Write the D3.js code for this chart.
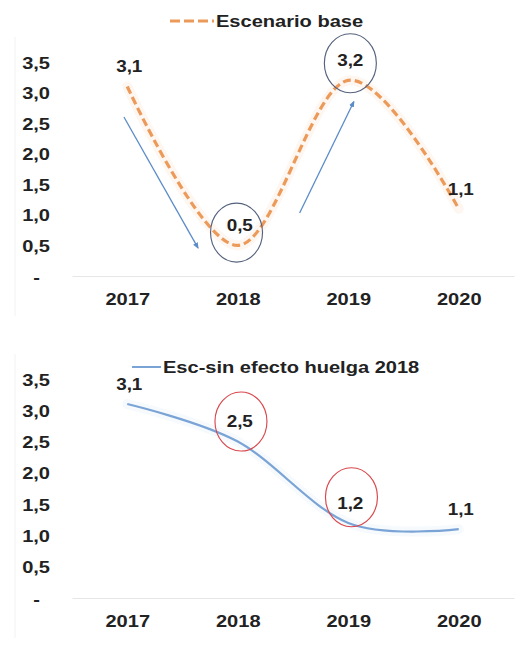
<!DOCTYPE html>
<html>
<head>
<meta charset="utf-8">
<script src="https://cdn.jsdelivr.net/npm/d3@7"></script>
<style>
  html, body { margin: 0; padding: 0; background: #fff; }
  svg { display: block; }
</style>
</head>
<body>
<svg id="chart" width="518" height="648"></svg>
<script>
// Growth scenarios, 2017-2020
const years = [2017, 2018, 2019, 2020];
const baseValues = [3.1, 0.5, 3.2, 1.1];
const noStrikeValues = [3.1, 2.5, 1.2, 1.1];
const yTicks = [0, 0.5, 1.0, 1.5, 2.0, 2.5, 3.0, 3.5];
const baseName = "Escenario base";
const noStrikeName = "Esc-sin efecto huelga 2018";

// Highlight rings (year, value of ring centre)
const baseRings = [{ year: 2017.98, value: 0.71 }, { year: 2019.01, value: 3.48 }];
const noStrikeRings = [{ year: 2018.02, value: 2.82 }, { year: 2019.02, value: 1.61 }];
// Trend arrows in (year, value) space
const baseArrows = [
  { from: [2016.97, 2.60], to: [2017.64, 0.46] },
  { from: [2018.56, 1.03], to: [2019.05, 2.85] }
];

const esLocale = d3.formatLocale({ decimal: ",", thousands: ".", grouping: [3], currency: ["", "€"] });
const fmt1 = esLocale.format(".1f");
const tickFmt = d => d === 0 ? "-" : fmt1(d);

const FONT = "'Liberation Sans', Arial, Helvetica, sans-serif";
const STRETCH = 1.18;
const INK = "#222";

const svg = d3.select("#chart");

const defs = svg.append("defs");
defs.append("marker")
  .attr("id", "arrowHead")
  .attr("viewBox", "0 0 10 10")
  .attr("refX", 8).attr("refY", 5)
  .attr("markerWidth", 5).attr("markerHeight", 5)
  .attr("orient", "auto")
  .append("path")
  .attr("d", "M0,1 L10,5 L0,9 Z")
  .attr("fill", "#5b8cc8");

function stretchedText(sel, x, y) {
  return sel.attr("transform", `translate(${x},${y}) scale(${STRETCH},1)`);
}

function panel(opts) {
  const x = d3.scalePoint().domain(years).range([72, 514]).padding(0.5);
  const xl = d3.scaleLinear().domain([2017, 2020]).range([x(2017), x(2020)]);
  const y = d3.scaleLinear().domain([0, 3.5]).range([opts.y0, opts.y1]);
  const g = svg.append("g");

  // faint frame edge on the left
  g.append("line")
    .attr("x1", 15).attr("x2", 15)
    .attr("y1", y(3.5) - 25).attr("y2", y(0) + 40)
    .attr("stroke", "#f2f2f2").attr("stroke-width", 1);

  // y axis labels
  const yAxis = g.append("g")
    .attr("transform", "translate(50,0)")
    .call(d3.axisLeft(y).tickValues(yTicks).tickFormat(tickFmt).tickSize(0).tickPadding(0));
  yAxis.select(".domain").remove();
  yAxis.selectAll("text")
    .attr("x", null).attr("dy", "0.36em")
    .attr("transform", d => `translate(${d === 0 ? -10 : 0},0) scale(${STRETCH},1)`)
    .attr("text-anchor", "end")
    .style("font-family", FONT).style("font-weight", "bold").style("font-size", "17px")
    .attr("fill", INK);

  // x axis with baseline
  const xAxis = g.append("g")
    .attr("transform", `translate(0,${y(0)})`)
    .call(d3.axisBottom(x).tickSize(0).tickSizeOuter(0).tickPadding(0));
  xAxis.select(".domain").attr("stroke", "#e6e6e6").attr("stroke-width", 1.2);
  xAxis.selectAll("text")
    .attr("y", null).attr("dy", "0.36em")
    .attr("transform", `translate(0,23) scale(${STRETCH},1)`)
    .style("font-family", FONT).style("font-weight", "bold").style("font-size", "17px")
    .attr("fill", INK);

  const pts = years.map((yr, i) => ({ year: yr, value: opts.values[i] }));
  const line = d3.line()
    .x(d => x(d.year))
    .y(d => y(d.value))
    .curve(d3.curveCardinal.tension(0));

  // soft halo under the series
  g.append("path")
    .datum(pts)
    .attr("d", line)
    .attr("fill", "none")
    .attr("stroke", opts.halo)
    .attr("stroke-width", 10)
    .attr("stroke-linecap", "round")
    .attr("opacity", 0.22);

  g.append("path")
    .datum(pts)
    .attr("d", line)
    .attr("fill", "none")
    .attr("stroke", opts.color)
    .attr("stroke-width", opts.width)
    .attr("stroke-dasharray", opts.dash)
    .attr("stroke-linecap", "butt");

  // arrows
  g.selectAll(".arrow")
    .data(opts.arrows)
    .join("line")
    .attr("class", "arrow")
    .attr("x1", d => xl(d.from[0])).attr("y1", d => y(d.from[1]))
    .attr("x2", d => xl(d.to[0])).attr("y2", d => y(d.to[1]))
    .attr("stroke", "#5b8cc8").attr("stroke-width", 1.3)
    .attr("marker-end", "url(#arrowHead)");

  // value labels
  g.selectAll(".val")
    .data(pts)
    .join("text")
    .attr("class", "val")
    .attr("transform", d => `translate(${x(d.year) + 2},${y(d.value) - 20}) scale(${STRETCH},1)`)
    .attr("dy", "0.36em")
    .attr("text-anchor", "middle")
    .style("font-family", FONT).style("font-weight", "bold").style("font-size", "16px")
    .attr("fill", INK)
    .text(d => fmt1(d.value));

  // highlight rings
  g.selectAll(".ring")
    .data(opts.rings)
    .join("ellipse")
    .attr("class", "ring")
    .attr("cx", d => xl(d.year) + 1).attr("cy", d => y(d.value))
    .attr("rx", 26).attr("ry", 29.5)
    .attr("fill", "none")
    .attr("stroke", opts.ringColor)
    .attr("stroke-width", 1.15);

  // legend
  const lg = g.append("g");
  lg.append("line")
    .attr("x1", opts.legend.x1).attr("x2", opts.legend.x2)
    .attr("y1", opts.legend.y).attr("y2", opts.legend.y)
    .attr("stroke", opts.color)
    .attr("stroke-width", opts.legendWidth)
    .attr("stroke-dasharray", opts.legendDash);
  lg.append("text")
    .call(stretchedText, opts.legend.x2 + 2, opts.legend.y)
    .attr("dy", "0.36em")
    .style("font-family", FONT).style("font-weight", "bold").style("font-size", "17px")
    .attr("fill", INK)
    .text(opts.name);
}

panel({
  y0: 276, y1: 62,
  values: baseValues,
  color: "#ec9a5a", halo: "#fbd9bd", width: 3.2, dash: "8,4",
  legendDash: "10,4", legendWidth: 3,
  arrows: baseArrows,
  rings: baseRings, ringColor: "#55627d",
  legend: { x1: 170, x2: 214, y: 21 },
  name: baseName
});

panel({
  y0: 598, y1: 379,
  values: noStrikeValues,
  color: "#7aa3d6", halo: "#d6e6f7", width: 2.2, dash: null,
  legendDash: null, legendWidth: 2,
  arrows: [],
  rings: noStrikeRings, ringColor: "#d9474c",
  legend: { x1: 132, x2: 161, y: 367 },
  name: noStrikeName
});
</script>
</body>
</html>
